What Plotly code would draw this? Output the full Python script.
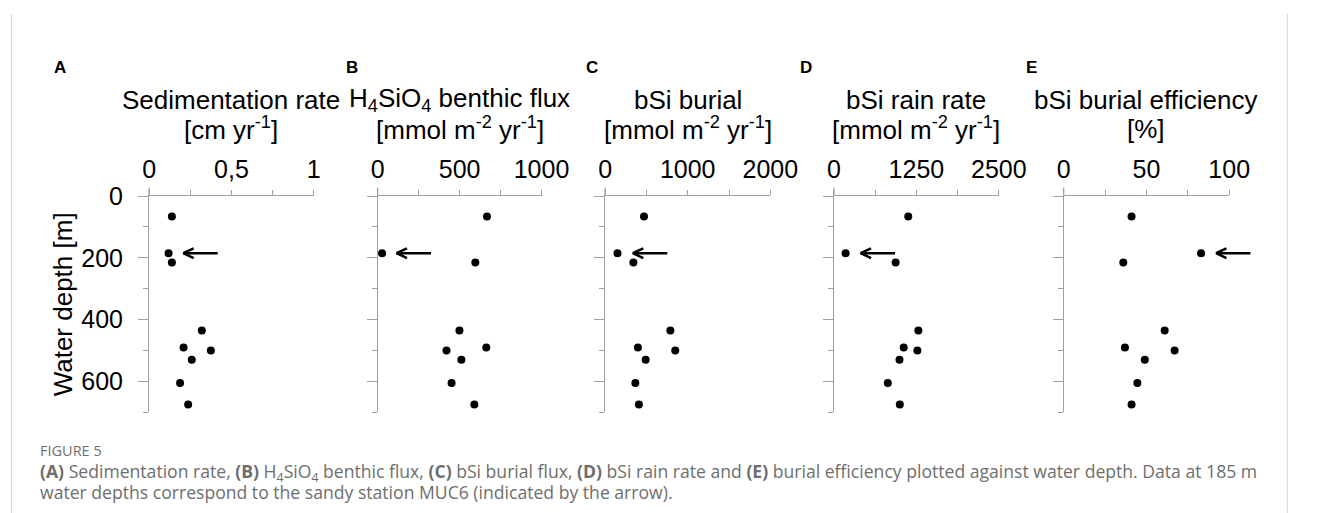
import plotly.graph_objects as go

# ---------------- data ----------------
depth = [66, 185, 215, 435, 490, 500, 530, 605, 675]
sed_rate = [0.138, 0.118, 0.138, 0.32, 0.209, 0.375, 0.259, 0.188, 0.237]
benthic_flux = [667, 27, 596, 499, 663, 420, 511, 451, 590]
bsi_burial = [471, 150, 342, 790, 397, 849, 491, 366, 409]
rain_rate = [1127, 177, 935, 1280, 1058, 1265, 994, 817, 999]
burial_eff = [41, 83, 36, 61, 37, 67, 49, 44.5, 41]

panel_letters = ["A", "B", "C", "D", "E"]
title_line1 = ["Sedimentation rate", "H<sub>4</sub>SiO<sub>4</sub> benthic flux",
               "bSi burial", "bSi rain rate", "bSi burial efficiency"]
title_line2 = ["[cm yr<sup>-1</sup>]", "[mmol m<sup>-2</sup> yr<sup>-1</sup>]",
               "[mmol m<sup>-2</sup> yr<sup>-1</sup>]", "[mmol m<sup>-2</sup> yr<sup>-1</sup>]", "[%]"]
x_max = [1, 1000, 2000, 2500, 100]
x_tickvals = [[0, 0.5, 1], [0, 500, 1000], [0, 1000, 2000], [0, 1250, 2500], [0, 50, 100]]
x_ticktext = [["0", "0,5", "1"], ["0", "500", "1000"], ["0", "1000", "2000"],
              ["0", "1250", "2500"], ["0", "50", "100"]]
x_minorvals = [[0.25, 0.75], [250, 750], [500, 1500], [625, 1875], [25, 75]]
y_tickvals = [0, 200, 400, 600]
y_minorvals = [100, 300, 500, 700]
depth_max = 700
arrow_depth = 185
arrow_head_x = [0.207, 115, 335, 404, 92]
series = [sed_rate, benthic_flux, bsi_burial, rain_rate, burial_eff]

caption_label = "FIGURE 5"
caption_line1 = ("<b>(A)</b> Sedimentation rate, <b>(B)</b> H<sub>4</sub>SiO<sub>4</sub> benthic flux, "
                 "<b>(C)</b> bSi burial flux, <b>(D)</b> bSi rain rate and <b>(E)</b> burial efficiency "
                 "plotted against water depth. Data at 185 m")
caption_line2 = "water depths correspond to the sandy station MUC6 (indicated by the arrow)."

# ---------------- layout geometry ----------------
W, H = 1328, 513
x_left_px = [146, 380.7, 614.3, 849.3, 1085.3]
x_right_px = [315, 549, 784, 1018.7, 1255.3]
y_top_px, y_bot_px = 187.2, 409.4

def px(xp):
    return xp / W

def py(yp):
    return 1 - yp / H

AX = "#a0a0a0"
FONT = "Liberation Sans, Arial, sans-serif"

fig = go.Figure()
layout = dict(width=W, height=H, margin=dict(l=0, r=0, t=0, b=0),
              paper_bgcolor="white", plot_bgcolor="white", showlegend=False)

annotations = []
shapes = []
for i in range(5):
    n = i + 1
    xa = "x" if n == 1 else f"x{n}"
    ya = "y" if n == 1 else f"y{n}"
    fig.add_trace(go.Scatter(x=series[i], y=depth, mode="markers",
                             marker=dict(color="black", size=8),
                             xaxis=xa, yaxis=ya, cliponaxis=False))
    layout["xaxis" if n == 1 else f"xaxis{n}"] = dict(
        domain=[px(x_left_px[i]), px(x_right_px[i])], anchor=ya, side="top",
        range=[0, x_max[i]], showgrid=False, zeroline=False,
        showline=True, linecolor=AX, linewidth=1.3,
        ticks="outside", ticklen=5, tickcolor=AX, tickwidth=1.3,
        tickmode="array", tickvals=x_tickvals[i], ticktext=x_ticktext[i],
        tickfont=dict(family=FONT, size=25, color="black"), ticklabelstandoff=2,
        minor=dict(tickmode="array", tickvals=x_minorvals[i], ticks="outside",
                   ticklen=5, tickcolor=AX, tickwidth=1.3),
    )
    layout["yaxis" if n == 1 else f"yaxis{n}"] = dict(
        domain=[py(y_bot_px), py(y_top_px)], anchor=xa,
        range=[depth_max, 0], showgrid=False, zeroline=False,
        showline=True, linecolor=AX, linewidth=1.3,
        ticks="outside", ticklen=10, tickcolor=AX, tickwidth=1.3,
        tickmode="array", tickvals=y_tickvals,
        showticklabels=(i == 0),
        tickfont=dict(family=FONT, size=25, color="black"), ticklabelstandoff=10,
        minor=dict(tickmode="array", tickvals=y_minorvals, ticks="outside",
                   ticklen=5, tickcolor=AX, tickwidth=1.3),
    )
    cx = (x_left_px[i] + x_right_px[i]) / 2
    annotations.append(dict(text=title_line1[i], x=px(cx), y=py(88), xref="paper", yref="paper",
                            xanchor="center", yanchor="middle", showarrow=False,
                            font=dict(family=FONT, size=26, color="black")))
    annotations.append(dict(text=title_line2[i], x=px(cx), y=py(118), xref="paper", yref="paper",
                            xanchor="center", yanchor="middle", showarrow=False,
                            font=dict(family=FONT, size=26, color="black")))
    # arrow (shaft + open chevron) pointing at the sandy station, pixel offsets from the tip
    for (ox, oy) in [(36, 0), (12, -5.5), (12, 5.5)]:
        annotations.append(dict(text="", x=arrow_head_x[i], y=arrow_depth, xref=xa, yref=ya,
                                showarrow=True, arrowhead=0, arrowwidth=2.5, arrowcolor="black",
                                ax=ox, ay=oy, axref="pixel", ayref="pixel", standoff=0,
                                startstandoff=0))
    # longer tick at the axis origin (y axis extends above the top x axis)
    annotations.append(dict(text="", x=0, y=0, xref=xa, yref=ya, showarrow=True, arrowhead=0,
                            arrowwidth=1.3, arrowcolor=AX, ax=0, ay=-10, axref="pixel",
                            ayref="pixel", standoff=0, startstandoff=0))

letter_x = [54.5, 354, 601, 821, 1052]
for i in range(5):
    annotations.append(dict(text=f"<b>{panel_letters[i]}</b>", x=px(letter_x[i]), y=py(55),
                            xref="paper", yref="paper", xanchor="center", yanchor="middle",
                            showarrow=False, font=dict(family=FONT, size=17, color="black")))

annotations.append(dict(text="Water depth [m]", x=px(57), y=py(298), xref="paper", yref="paper",
                        xanchor="center", yanchor="middle", textangle=-90, showarrow=False,
                        font=dict(family=FONT, size=26, color="black")))

CAP = "Open Sans, sans-serif"
CAPC = "#6e6e6e"
annotations.append(dict(text=caption_label, x=px(31.5), y=py(449), xref="paper", yref="paper",
                        xanchor="left", yanchor="middle", showarrow=False,
                        font=dict(family=CAP, size=14.5, color=CAPC)))
annotations.append(dict(text=caption_line1, x=px(31.5), y=py(471), xref="paper", yref="paper",
                        xanchor="left", yanchor="middle", showarrow=False,
                        font=dict(family=CAP, size=17.6, color=CAPC)))
annotations.append(dict(text=caption_line2, x=px(31.5), y=py(491.5), xref="paper", yref="paper",
                        xanchor="left", yanchor="middle", showarrow=False,
                        font=dict(family=CAP, size=17.6, color=CAPC)))

for bx in [4.5, 1315]:
    shapes.append(dict(type="line", xref="paper", yref="paper", x0=px(bx), x1=px(bx), y0=0, y1=1,
                       line=dict(color="#d4d4d4", width=1)))

layout["annotations"] = annotations
layout["shapes"] = shapes
fig.update_layout(**layout)
fig.write_html("out.html")
